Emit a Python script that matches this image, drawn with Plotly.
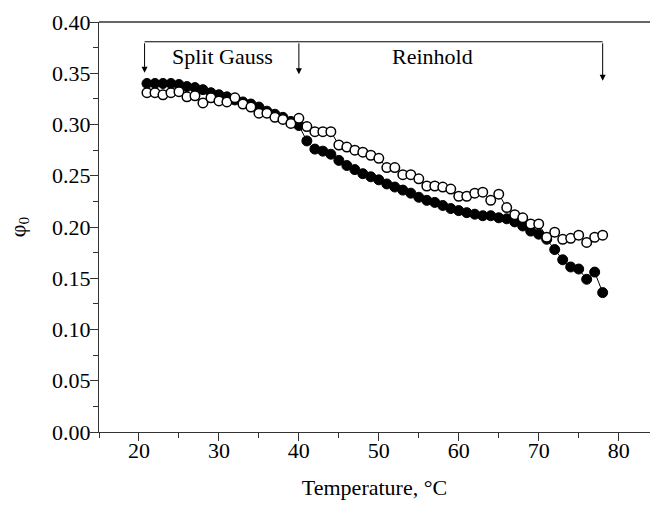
import plotly.graph_objects as go

# ---- data ----
temperature = list(range(21, 79))
phi_filled = [0.340, 0.340, 0.340, 0.340, 0.339, 0.337, 0.336, 0.334, 0.331, 0.329,
              0.327, 0.324, 0.322, 0.320, 0.317, 0.313, 0.310, 0.307, 0.303, 0.299,
              0.284, 0.276, 0.274, 0.271, 0.265, 0.260, 0.256, 0.252, 0.249, 0.246,
              0.242, 0.239, 0.236, 0.233, 0.229, 0.226, 0.224, 0.221, 0.218, 0.216,
              0.214, 0.2125, 0.211, 0.211, 0.209, 0.208, 0.205, 0.201, 0.196, 0.193,
              0.188, 0.178, 0.168, 0.161, 0.159, 0.149, 0.156, 0.136]
phi_open = [0.331, 0.331, 0.329, 0.331, 0.332, 0.327, 0.328, 0.321, 0.326, 0.323,
            0.322, 0.326, 0.320, 0.317, 0.311, 0.311, 0.307, 0.305, 0.301, 0.306,
            0.298, 0.293, 0.293, 0.293, 0.280, 0.278, 0.275, 0.273, 0.270, 0.267,
            0.258, 0.258, 0.251, 0.251, 0.247, 0.240, 0.240, 0.239, 0.237, 0.230,
            0.230, 0.233, 0.234, 0.226, 0.232, 0.219, 0.212, 0.209, 0.203, 0.203,
            0.190, 0.195, 0.188, 0.189, 0.192, 0.185, 0.190, 0.192]

region_bounds = [20.7, 40.0, 78.0]       # arrow positions (temperature)
region_tips = [0.3505, 0.349, 0.3426]    # arrow tip heights
bracket_level = 0.3807
region_labels = ["Split Gauss", "Reinhold"]
region_label_x = [30.4, 56.7]
region_label_y = 0.366

FONT = "Liberation Serif, Times New Roman, serif"

fig = go.Figure()
fig.add_trace(go.Scatter(
    x=temperature, y=phi_filled, mode="lines+markers",
    line=dict(color="black", width=1),
    marker=dict(symbol="circle", size=10, color="black", line=dict(color="black", width=1)),
    showlegend=False))
fig.add_trace(go.Scatter(
    x=temperature, y=phi_open, mode="lines+markers",
    line=dict(color="black", width=1),
    marker=dict(symbol="circle", size=9.5, color="white", line=dict(color="black", width=1.5)),
    showlegend=False))

# bracket line
fig.add_shape(type="line", xref="x", yref="y",
              x0=region_bounds[0], x1=region_bounds[-1], y0=bracket_level, y1=bracket_level,
              line=dict(color="black", width=1))
# top frame line
fig.add_shape(type="line", xref="paper", yref="paper", x0=0, x1=1, y0=1, y1=1,
              line=dict(color="#333", width=1.3))

for bx, tip in zip(region_bounds, region_tips):
    fig.add_annotation(x=bx, y=tip, ax=bx, ay=bracket_level, xref="x", yref="y",
                       axref="x", ayref="y", text="", showarrow=True,
                       arrowhead=2, arrowsize=1.2, arrowwidth=1, arrowcolor="black")

for lab, lx in zip(region_labels, region_label_x):
    fig.add_annotation(x=lx, y=region_label_y, xref="x", yref="y", text=lab,
                       showarrow=False, font=dict(family=FONT, size=22, color="black"))

fig.update_layout(
    width=650, height=509,
    margin=dict(l=99, r=0, t=22, b=77),
    plot_bgcolor="white", paper_bgcolor="white",
    font=dict(family=FONT, size=22, color="black"),
    xaxis=dict(range=[15, 83.92], tickvals=[20, 30, 40, 50, 60, 70, 80],
               showline=True, linecolor="#333", linewidth=1.3, mirror=False,
               ticks="outside", ticklen=8, tickwidth=1.3, tickcolor="#333",
               ticklabelstandoff=-10,
               minor=dict(dtick=5, tick0=15, ticks="outside", ticklen=5, tickwidth=1.3, tickcolor="#333"),
               showgrid=False, zeroline=False,
               title=dict(text="Temperature, °C", standoff=18, font=dict(size=22))),
    yaxis=dict(range=[0, 0.4], tickvals=[0, 0.05, 0.10, 0.15, 0.20, 0.25, 0.30, 0.35, 0.40],
               tickformat=".2f",
               showline=True, linecolor="#333", linewidth=1.3, mirror=False,
               ticks="outside", ticklen=8, tickwidth=1.3, tickcolor="#333",
               ticklabelstandoff=-5,
               minor=dict(dtick=0.025, tick0=0, ticks="outside", ticklen=5, tickwidth=1.3, tickcolor="#333"),
               showgrid=False, zeroline=False,
               title=dict(text="φ<sub>0</sub>", standoff=20, font=dict(size=22))),
)

fig.write_html("out.html")
